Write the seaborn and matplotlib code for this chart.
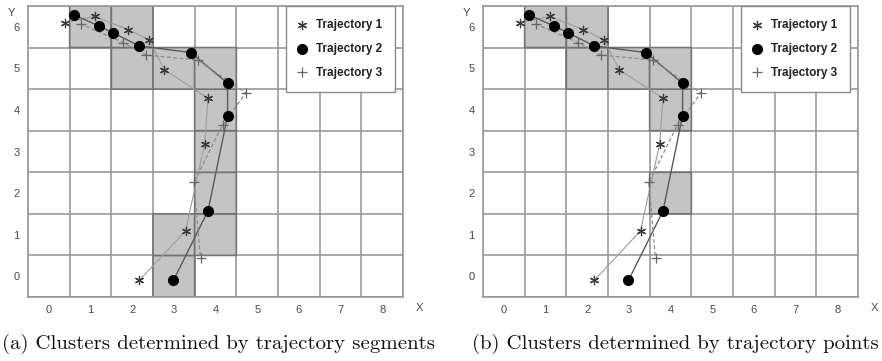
import numpy as np
import matplotlib
matplotlib.use("Agg")
import matplotlib.pyplot as plt
import seaborn as sns
from matplotlib.colors import ListedColormap

# ---------------- data ----------------
x_ticks = [0, 1, 2, 3, 4, 5, 6, 7, 8]
y_ticks = [0, 1, 2, 3, 4, 5, 6]

labels = ["Trajectory 1", "Trajectory 2", "Trajectory 3"]

t1_x = [0.39, 1.10, 1.91, 2.40, 2.77, 3.82, 3.74, 3.28, 2.17]
t1_y = [6.10, 6.25, 5.93, 5.69, 4.97, 4.28, 3.18, 1.09, -0.10]

t2_x = [0.60, 1.20, 1.55, 2.17, 3.41, 4.29, 4.29, 3.82, 2.99]
t2_y = [6.29, 6.02, 5.85, 5.54, 5.38, 4.64, 3.86, 1.57, -0.10]

t3_x = [0.76, 1.79, 2.33, 3.57, 4.73, 4.17, 3.48, 3.64]
t3_y = [6.07, 5.62, 5.32, 5.20, 4.41, 3.64, 2.26, 0.43]

cells_a_col = [1, 2, 2, 3, 4, 4, 4, 4, 4, 3, 3]
cells_a_row = [6, 6, 5, 5, 5, 4, 3, 2, 1, 1, 0]

cells_b_col = [1, 2, 2, 3, 4, 4, 4]
cells_b_row = [6, 6, 5, 5, 5, 4, 2]

captions = ["(a) Clusters determined by trajectory segments",
            "(b) Clusters determined by trajectory points"]

# ---------------- style ----------------
sns.set_style("white")
plt.rcParams["font.family"] = ["Liberation Sans", "DejaVu Sans"]

W, H = 882, 361
fig = plt.figure(figsize=(W / 100, H / 100), dpi=100)

GRID_C = "#9a9a9a"
TICK_C = "#4a4a4a"


def draw_panel(ax, cols, rows, caption, cap_x):
    ax.set_xlim(-0.5, 8.5)
    ax.set_ylim(-0.5, 6.5)
    nx, ny = len(x_ticks), len(y_ticks)
    Z = np.zeros((ny, nx))
    Z[rows, cols] = 1
    Zm = np.ma.masked_equal(Z, 0)
    ax.pcolor(np.arange(-0.5, nx), np.arange(-0.5, ny), Zm,
              cmap=ListedColormap(["#c4c4c4"]), edgecolors="#737373",
              linewidth=1.2, zorder=1)

    ax.set_xticks(x_ticks)
    ax.set_yticks(y_ticks)
    ax.set_xticks(np.arange(-0.5, nx), minor=True)
    ax.set_yticks(np.arange(-0.5, ny), minor=True)
    ax.set_axisbelow(True)
    ax.grid(which="minor", color=GRID_C, linewidth=1.2)
    ax.grid(which="major", visible=False)
    ax.tick_params(which="both", length=0)
    ax.tick_params(which="major", labelsize=8, labelcolor=TICK_C, pad=6)
    for s in ax.spines.values():
        s.set_color(GRID_C)
        s.set_linewidth(1.2)

    # trajectory lines
    sns.lineplot(x=t1_x, y=t1_y, sort=False, estimator=None, ax=ax,
                 color="#9c9c9c", linewidth=0.8, zorder=2)
    sns.lineplot(x=t2_x, y=t2_y, sort=False, estimator=None, ax=ax,
                 color="#5a5a5a", linewidth=1.0, zorder=2)
    sns.lineplot(x=t3_x, y=t3_y, sort=False, estimator=None, ax=ax,
                 color="#8a8a8a", linewidth=0.9, linestyle=(0, (3, 2)), zorder=2)

    # markers
    sns.scatterplot(x=t1_x, y=t1_y, marker=(6, 2, 0), s=36, color="#3a3a3a",
                    linewidth=0.9, ax=ax, label=labels[0], zorder=3)
    sns.scatterplot(x=t2_x, y=t2_y, marker="o", s=64, color="black",
                    edgecolor="black", linewidth=0, ax=ax, label=labels[1], zorder=3)
    sns.scatterplot(x=t3_x, y=t3_y, marker="+", s=60, color="#666666",
                    linewidth=0.9, ax=ax, label=labels[2], zorder=3)

    ax.set_xlabel("")
    ax.set_ylabel("")

    handles, labs = ax.get_legend_handles_labels()
    keep = [(h, l) for h, l in zip(handles, labs) if l in labels]
    leg = ax.legend([k[0] for k in keep], [k[1] for k in keep],
                    loc="upper right", bbox_to_anchor=(0.979, 1.0),
                    borderaxespad=0, frameon=True, fancybox=False,
                    edgecolor="#8a8a8a", framealpha=1.0,
                    prop={"weight": "bold", "size": 8.5},
                    borderpad=1.1, labelspacing=1.0, handlelength=0.4,
                    handletextpad=1.0, scatterpoints=1)
    leg.get_frame().set_linewidth(1.0)
    for t in leg.get_texts():
        t.set_color("#222222")
    leg.set_zorder(5)

    ax.text(1.043, -0.038, "X", transform=ax.transAxes, ha="center",
            va="center", fontsize=8, color=TICK_C)
    ax.text(-0.045, 0.976, "Y", transform=ax.transAxes, ha="center",
            va="center", fontsize=8, color=TICK_C)

    fig.text(cap_x / W, 1 - 344 / H, caption, ha="center", va="center",
             family="cmr10", fontsize=15, color="#111111")


ax1 = fig.add_axes([28 / W, (H - 297) / H, 375 / W, 291 / H])
ax2 = fig.add_axes([483 / W, (H - 297) / H, 375 / W, 291 / H])

draw_panel(ax1, cells_a_col, cells_a_row, captions[0], 219)
draw_panel(ax2, cells_b_col, cells_b_row, captions[1], 675)

fig.savefig("out.png", dpi=100)
